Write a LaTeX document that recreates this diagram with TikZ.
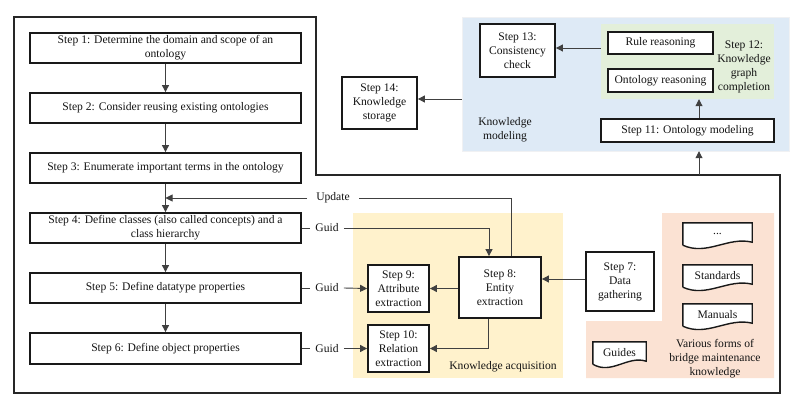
\documentclass[tikz,border=0pt]{standalone}
\usepackage{fontspec}
\setmainfont{Liberation Serif}
\usetikzlibrary{arrows.meta,calc}
\definecolor{kmblue}{RGB}{222,234,246}
\definecolor{kggreen}{RGB}{227,239,218}
\definecolor{kayellow}{RGB}{255,242,204}
\definecolor{kpeach}{RGB}{251,226,211}
\pgfdeclarelayer{back}
\pgfdeclarelayer{mid}
\pgfsetlayers{back,mid,main}
\begin{document}
\begin{tikzpicture}[x=1pt,y=-1pt,
  every node/.style={font=\fontsize{11.6}{14}\selectfont, text=black!92},
  stepbox/.style={draw=black!90, line width=1.8pt, fill=white, inner sep=0pt, align=center},
  region/.style={inner sep=0pt, draw=none},
  ln/.style={draw=black!75, line width=0.9pt},
  arr/.style={ln, -{Triangle[length=7pt,width=7pt]}},
  docline/.style={draw=black!90, line width=1.4pt, fill=white},
  docnode/.style={inner sep=0pt, minimum height=22pt},
  lbl/.style={inner xsep=5pt, inner ysep=0pt},
  txt/.style={align=center, inner sep=0pt}
]
\begin{pgfonlayer}{back}
\fill[white] (0,0) rectangle (800,404);
\end{pgfonlayer}
\useasboundingbox (0,0) rectangle (800,404);

% outer frame
\draw[line width=1.5pt, draw=black!85] (14,17) -- (316,17) -- (316,175) -- (780,175) -- (780,393) -- (14,393) -- cycle;
\coordinate (frtop) at (699,175);

% regions
\begin{pgfonlayer}{back}
\node[region, fill=kmblue, draw=kmblue!80!black!20, minimum width=327pt, minimum height=134pt] (blue) at (625.5,84) {};
\node[region, fill=kggreen, minimum width=173pt, minimum height=75pt] (green) at (687.5,61.5) {};
\node[region, fill=kayellow, minimum width=210pt, minimum height=165pt] (yellow) at (458,295.5) {};
\fill[kpeach] (662,213) -- (774,213) -- (774,378) -- (586,378) -- (586,321) -- (662,321) -- cycle;
\end{pgfonlayer}

% left steps
\node[stepbox, minimum width=271pt, minimum height=30pt] (s1) at (165.5,48) {Step 1: Determine the domain and scope of an\\ontology};
\node[stepbox, minimum width=271pt, minimum height=30pt] (s2) at (165.5,108) {Step 2: Consider reusing existing ontologies};
\node[stepbox, minimum width=271pt, minimum height=30pt] (s3) at (165.5,168) {Step 3: Enumerate important terms in the ontology};
\node[stepbox, minimum width=271pt, minimum height=30pt] (s4) at (165.5,228) {Step 4: Define classes (also called concepts) and a\\class hierarchy};
\node[stepbox, minimum width=271pt, minimum height=30pt] (s5) at (165.5,288) {Step 5: Define datatype properties};
\node[stepbox, minimum width=271pt, minimum height=31pt] (s6) at (165.5,348.5) {Step 6: Define object properties};

\draw[arr] (s1) -- (s2);
\draw[arr] (s2) -- (s3);
\draw[arr] (s3) -- (s4);
\draw[arr] (s4) -- (s5);
\draw[arr] (s5) -- (s6);

% knowledge modeling
\node[stepbox, minimum width=75pt, minimum height=52pt] (s14) at (379.5,103) {Step 14:\\Knowledge\\storage};
\node[stepbox, minimum width=75pt, minimum height=53pt] (s13) at (517.5,50.5) {Step 13:\\Consistency\\check};
\node[stepbox, minimum width=105pt, minimum height=22pt] (rr) at (660.5,43) {Rule reasoning};
\node[stepbox, minimum width=105pt, minimum height=23pt] (or) at (660.5,80.5) {Ontology reasoning};
\node[txt] (s12) at (744,67) {Step 12:\\Knowledge\\graph\\completion};
\node[stepbox, minimum width=173pt, minimum height=23pt] (s11) at (687.5,130.5) {Step 11: Ontology modeling};
\node[txt] (kmlbl) at (505,130) {Knowledge\\modeling};

\draw[arr] (frtop) -- (frtop |- blue.south);
\draw[arr] (s11.north -| frtop) -- (green.south -| frtop);
\draw[arr] ([yshift=2.5pt]green.west |- s13.east) -- ([yshift=2.5pt]s13.east);
\draw[arr] ([yshift=4pt]blue.west |- s14.east) -- ([yshift=4pt]s14.east);

% knowledge acquisition
\node[stepbox, minimum width=82pt, minimum height=61pt] (s8) at (500,287.5) {Step 8:\\Entity\\extraction};
\node[stepbox, minimum width=61pt, minimum height=47pt] (s9) at (398.5,288.5) {Step 9:\\Attribute\\extraction};
\node[stepbox, minimum width=61pt, minimum height=47pt] (s10) at (398.5,348.5) {Step 10:\\Relation\\extraction};
\node[stepbox, minimum width=68pt, minimum height=59pt] (s7) at (620,281.5) {Step 7:\\Data\\gathering};
\node[txt] (kalbl) at (503,367) {Knowledge acquisition};

\draw[arr] (s8.west |- s9.east) -- (s9.east);
\draw[arr] ([xshift=-12pt]s8.south) |- (s10.east);
\draw[arr] ([yshift=2.5pt]s7.west) -- ([yshift=2.5pt]s7.west -| s8.east);

% labels on the left connectors
\node[lbl, inner xsep=9pt] (upd) at (333,198) {Update};
\node[lbl] (g4) at (327,228) {Guid};
\node[lbl] (g5) at (327,288) {Guid};
\node[lbl] (g6) at (327,348.5) {Guid};

\draw[ln] ([xshift=11pt]s8.north) |- (upd.east);
\draw[arr] (upd.west) -- (upd.west -| s3.south);
\draw[ln] (s4.east) -- (g4.west);
\draw[arr] (g4.east) -| ([xshift=-11pt]s8.north);
\draw[ln] (s5.east) -- (g5.west);
\draw[arr] (g5.east) -- (s9.west);
\draw[ln] (s6.east) -- (g6.west);
\draw[arr] (g6.east) -- (s10.west);

% documents
\node[docnode, minimum width=69pt] (d1) at (717.5,234) {...};
\node[docnode, minimum width=69pt] (d2) at (717.5,276) {Standards};
\node[docnode, minimum width=69pt] (d3) at (717.5,315) {Manuals};
\node[docnode, minimum width=53pt] (d4) at (619.5,353) {Guides};
\begin{pgfonlayer}{mid}
\foreach \d in {d1,d2,d3,d4}{
  \draw[docline] (\d.south west) -- (\d.north west) -- (\d.north east) -- ([yshift=3pt]\d.south east)
    .. controls ($(\d.south west)!0.65!(\d.south east)+(0,-9)$) and ($(\d.south west)!0.35!(\d.south east)+(0,11)$) .. (\d.south west);
}
\end{pgfonlayer}
\node[txt] (vf) at (715,359) {Various forms of\\bridge maintenance\\knowledge};
\end{tikzpicture}
\end{document}
